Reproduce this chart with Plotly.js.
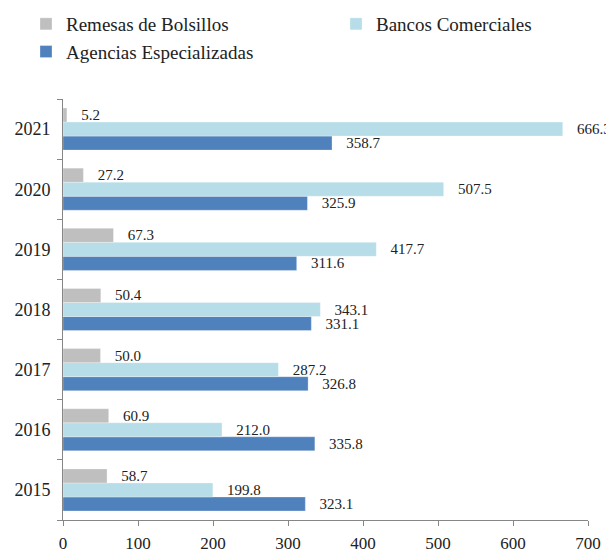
<!DOCTYPE html>
<html>
<head>
<meta charset="utf-8">
<script src="https://cdn.plot.ly/plotly-3.0.1.min.js"></script>
<style>html,body{margin:0;padding:0;background:#fff;}#chart{width:606px;height:550px;}</style>
</head>
<body>
<div id="chart"></div>
<script>
const years = ['2015', '2016', '2017', '2018', '2019', '2020', '2021'];
const remesas = [58.7, 60.9, 50.0, 50.4, 67.3, 27.2, 5.2];
const bancos = [199.8, 212.0, 287.2, 343.1, 417.7, 507.5, 666.3];
const agencias = [323.1, 335.8, 326.8, 331.1, 311.6, 325.9, 358.7];
const xTicks = [0, 100, 200, 300, 400, 500, 600, 700];

const FONT = 'Liberation Serif, Times New Roman, serif';
const pad = '\u00a0\u00a0\u00a0';

function series(name, vals, color, legendId) {
  return {
    type: 'bar', orientation: 'h', name: name, legend: legendId,
    y: years, x: vals,
    marker: {color: color, line: {color: 'rgba(255,255,255,0.6)', width: 0.5}},
    text: vals.map(v => pad + v.toFixed(1)),
    texttemplate: '%{text}',
    textposition: 'outside',
    constraintext: 'none',
    cliponaxis: false,
    textfont: {family: FONT, size: 15, color: '#222'},
    hoverinfo: 'x+name'
  };
}

const data = [
  series('Agencias Especializadas', agencias, '#4f81bd', 'legend'),
  series('Bancos Comerciales', bancos, '#b7dde8', 'legend2'),
  series('Remesas de Bolsillos', remesas, '#bfbfbf', 'legend')
];

const legendBase = {
  orientation: 'v', traceorder: 'reversed',
  xref: 'container', yref: 'container',
  y: 1 - 5 / 550, xanchor: 'left', yanchor: 'top',
  font: {family: FONT, size: 19, color: '#222'},
  itemclick: false, itemdoubleclick: false,
  bgcolor: 'rgba(0,0,0,0)'
};

const layout = {
  width: 606, height: 550,
  margin: {l: 63, r: 18, t: 99, b: 30, autoexpand: false},
  paper_bgcolor: '#fff', plot_bgcolor: '#fff',
  font: {family: FONT, color: '#222', size: 17},
  barmode: 'group', bargap: 0.3, bargroupgap: 0,
  showlegend: true,
  legend: Object.assign({}, legendBase, {x: 26 / 606}),
  legend2: Object.assign({}, legendBase, {x: 336 / 606}),
  xaxis: {
    range: [0, 700], tickvals: xTicks, ticktext: xTicks.map(String),
    showgrid: false, zeroline: false,
    showline: true, linecolor: '#868686', linewidth: 1,
    ticks: 'outside', ticklen: 5, tickcolor: '#868686',
    ticklabelstandoff: 3,
    tickfont: {family: FONT, size: 17, color: '#222'},
    fixedrange: true
  },
  yaxis: {
    type: 'category', categoryorder: 'array', categoryarray: years,
    showgrid: false, zeroline: false,
    showline: true, linecolor: '#868686', linewidth: 1,
    ticks: 'outside', ticklen: 5, tickcolor: '#868686', tickson: 'boundaries',
    ticklabelstandoff: 8,
    tickfont: {family: FONT, size: 18, color: '#222'},
    fixedrange: true
  }
};

Plotly.newPlot('chart', data, layout, {displayModeBar: false});
</script>
</body>
</html>
